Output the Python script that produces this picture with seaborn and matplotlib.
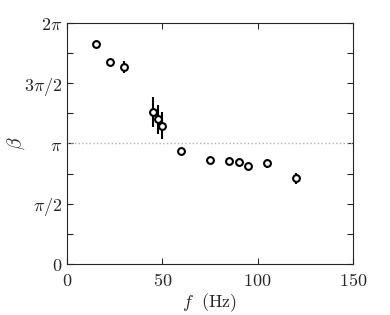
import numpy as np
import pandas as pd
import seaborn as sns
import matplotlib
matplotlib.use("Agg")
import matplotlib.pyplot as plt
from matplotlib.ticker import MultipleLocator

# values
freq = [15, 22.5, 30, 45, 47.5, 50, 60, 75, 85, 90, 95, 105, 120]
beta = [5.74, 5.26, 5.14, 3.97, 3.77, 3.60, 2.94, 2.72, 2.68, 2.67, 2.55, 2.62, 2.23]
beta_err = [0.03, 0.03, 0.15, 0.39, 0.37, 0.35, 0.03, 0.03, 0.03, 0.03, 0.03, 0.11, 0.15]

yticks = [0, np.pi / 2, np.pi, 3 * np.pi / 2, 2 * np.pi]
ytick_labels = [r"$0$", r"$\pi/2$", r"$\pi$", r"$3\pi/2$", r"$2\pi$"]
xticks = [0, 50, 100, 150]

df = pd.DataFrame({"f": freq, "beta": beta, "err": beta_err})

sns.set_style("ticks")
plt.rcParams["mathtext.fontset"] = "cm"
plt.rcParams["font.family"] = ["DejaVu Serif"]

fig = plt.figure(figsize=(3.9, 3.15), dpi=100)
ax = fig.add_axes([0.172, 0.162, 0.733, 0.765])

# reference line at pi
ax.axhline(np.pi, color="#b0b0b0", lw=1.0, ls=":", zorder=1)

ax.errorbar(df["f"], df["beta"], yerr=df["err"], fmt="none", ecolor="black",
            elinewidth=1.5, capsize=0, zorder=2)
sns.scatterplot(data=df, x="f", y="beta", ax=ax, marker="o", s=24,
                facecolor="white", edgecolor="black", linewidth=1.5, zorder=3)

ax.set_xlim(0, 150)
ax.set_ylim(0, 2 * np.pi)
ax.set_xticks(xticks)
ax.set_xticklabels([rf"${t}$" for t in xticks])
ax.set_yticks(yticks)
ax.set_yticklabels(ytick_labels)
ax.yaxis.set_minor_locator(MultipleLocator(np.pi / 4))

for s in ax.spines.values():
    s.set_visible(True)
    s.set_color("#262626")
    s.set_linewidth(0.8)
ax.tick_params(which="both", direction="in", top=True, right=True,
               length=4, width=0.8, color="#262626", labelsize=13)
ax.tick_params(axis="x", pad=6)

ax.set_xlabel(r"$f\ \ \mathrm{(Hz)}$", fontsize=13)
ax.set_ylabel(r"$\beta$", fontsize=14)
ax.yaxis.set_label_coords(-0.14, 0.5)
ax.xaxis.set_label_coords(0.5, -0.115)

fig.savefig("out.png", dpi=100)
